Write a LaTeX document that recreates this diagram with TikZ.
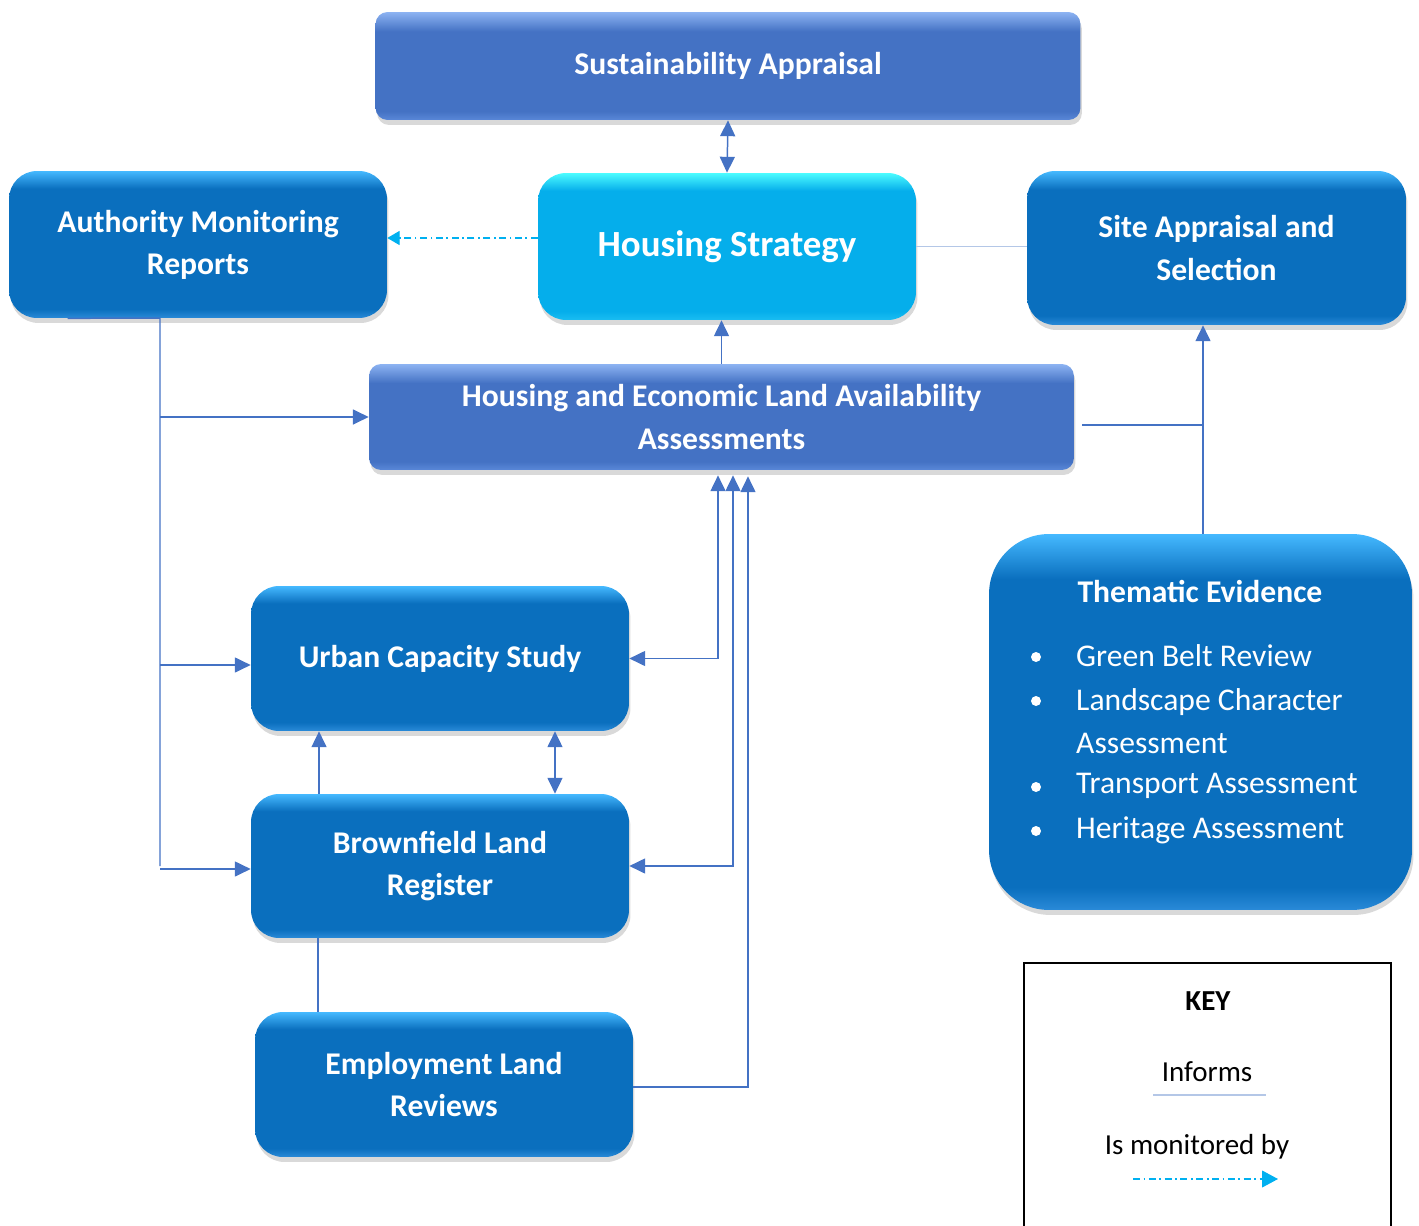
\documentclass[tikz,border=0pt]{standalone}
\usepackage{fontspec}
\setmainfont{Carlito}
\usetikzlibrary{arrows.meta,shadows}

\definecolor{boxblue}{HTML}{0A6FBE}
\definecolor{bluetop}{HTML}{45B9FF}
\definecolor{blueedge}{HTML}{2A8AD8}
\definecolor{boxcyan}{HTML}{05AEEB}
\definecolor{cyantop}{HTML}{4CFCFF}
\definecolor{cyanedge}{HTML}{1ABDF2}
\definecolor{boxperi}{HTML}{4472C4}
\definecolor{peritop}{HTML}{8DB3F2}
\definecolor{periedge}{HTML}{5A88D8}
\definecolor{linkblue}{HTML}{4472C4}
\definecolor{monitorcyan}{HTML}{00B0F0}
\definecolor{paleline}{HTML}{B4C7E7}

\pgfdeclareverticalshading{bluebevel}{100bp}{color(0bp)=(blueedge); color(25bp)=(blueedge);
  color(28bp)=(boxblue); color(69bp)=(boxblue); color(75bp)=(bluetop); color(100bp)=(bluetop)}
\pgfdeclareverticalshading{cyanbevel}{100bp}{color(0bp)=(cyanedge); color(25bp)=(cyanedge);
  color(28bp)=(boxcyan); color(69bp)=(boxcyan); color(75bp)=(cyantop); color(100bp)=(cyantop)}
\pgfdeclareverticalshading{peribevel}{100bp}{color(0bp)=(periedge); color(25bp)=(periedge);
  color(29bp)=(boxperi); color(66bp)=(boxperi); color(75bp)=(peritop); color(100bp)=(peritop)}

\tikzset{
  box/.style={rounded corners=0.56cm, minimum width=7.56cm, minimum height=2.9cm,
    align=center, text=white, font=\bfseries\fontsize{18}{24}\selectfont,
    shading=bluebevel, drop shadow={shadow xshift=0.03cm, shadow yshift=-0.1cm, opacity=.3}},
  widebox/.style={box, rounded corners=0.24cm, minimum width=14.1cm, minimum height=2.12cm,
    shading=peribevel},
  con/.style={draw=linkblue, line width=0.85pt},
  monitor/.style={draw=monitorcyan, line width=0.7pt, dash pattern=on 4pt off 2pt on 1pt off 2pt,
    -{Triangle[length=7pt,width=8pt]}},
  listitem/.style={anchor=west, align=left, text=white, font=\fontsize{18}{24.5}\selectfont},
  bullet/.style={circle, fill=white, inner sep=0pt, minimum size=0.2cm},
  keytext/.style={font=\fontsize{16.5}{20}\selectfont},
}

\begin{document}
\begin{tikzpicture}[x=0.02cm, y=-0.02cm, >={Triangle[length=9pt,width=8.5pt]}]
  \useasboundingbox (0,0) rectangle (1419,1226);

  % boxes
  \node[widebox, minimum height=2.16cm] (sa) at (728,66) {Sustainability Appraisal};
  \node[box, shading=cyanbevel, minimum height=2.94cm, font=\bfseries\fontsize{21}{24}\selectfont]
    (hs) at (727,246.5) {Housing Strategy};
  \node[box, minimum height=2.94cm] (amr) at (198,244.5) {Authority Monitoring\\Reports};
  \node[box, minimum width=7.58cm, minimum height=3.08cm] (sas) at (1216.5,248) {Site Appraisal and\\Selection};
  \node[widebox] (helaa) at (721.5,417) {Housing and Economic Land Availability\\Assessments};
  \node[box] (ucs) at (440,658.5) {Urban Capacity Study};
  \node[box, minimum height=2.88cm] (blr) at (440,866) {Brownfield Land\\Register};
  \node[box] (elr) at (444,1084.5) {Employment Land\\Reviews};
  \node[box, rounded corners=1.2cm, minimum width=8.46cm, minimum height=7.52cm] (te) at (1200.5,722) {};

  % thematic evidence list
  \node[text=white, font=\bfseries\fontsize{18}{24}\selectfont] (tetitle) at (1200,591) {Thematic Evidence};
  \node[bullet] (bulleta) at (1036,657) {};
  \node[bullet] (bulletb) at (1036,701) {};
  \node[bullet] (bulletc) at (1036,787) {};
  \node[bullet] (bulletd) at (1036,831) {};
  \node[listitem] (greenbelt) at (1070,656) {Green Belt Review};
  \node[listitem] (landscape) at (1070,721.5) {Landscape Character\\Assessment};
  \node[listitem] (transport) at (1070,786) {Transport Assessment};
  \node[listitem] (heritage) at (1070,830) {Heritage Assessment};

  % connectors
  \draw[con,<->] (hs.north) -- (sa.south);
  \draw[monitor] ([yshift=.17cm]hs.west) -- ([yshift=.17cm]hs.west -| amr.east);
  \draw[draw=paleline, line width=0.6pt] (hs.east) -- (hs.east -| sas.west);
  \draw[con,->] (helaa.north) -- (helaa.north |- hs.south);

  \coordinate (trunk) at (160,318);
  \draw[con] ([xshift=1.18cm]amr.south west) -- (trunk) -- (trunk |- blr.west);
  \draw[con,->] (trunk |- helaa.west) -- (helaa.west);
  \draw[con,->] ([yshift=-.13cm]trunk |- ucs.west) -- ([yshift=-.13cm]ucs.west);
  \draw[con,->] ([yshift=-.06cm]trunk |- blr.west) -- ([yshift=-.06cm]blr.west);

  \draw[con,<->, shorten >=.1cm] (ucs.east) -| ([xshift=-.07cm]helaa.south);
  \draw[con,<->, shorten >=.1cm] (blr.east) -| ([xshift=.23cm]helaa.south);
  \draw[con,->, shorten >=.12cm] ([yshift=-.05cm]elr.east) -| ([xshift=.53cm]helaa.south);

  \draw[con,->] ([xshift=-2.42cm]blr.north) -- ([xshift=-2.42cm]ucs.south);
  \draw[con,<->] ([xshift=2.3cm]blr.north) -- ([xshift=2.3cm]ucs.south);
  \draw[con] ([xshift=-2.44cm]blr.south) -- ([xshift=-2.44cm]blr.south |- elr.north);

  \coordinate (tejoin) at (1203,425);
  \draw[con,->] (tejoin |- te.north) -- (tejoin |- sas.south);
  \draw[con] ([xshift=.16cm]helaa.east |- tejoin) -- (tejoin);

  % key
  \draw[line width=1.3pt] (1024,963) rectangle (1391,1240);
  \node[keytext, font=\bfseries\fontsize{16.5}{20}\selectfont] (keytitle) at (1208,1001) {KEY};
  \node[keytext] (informs) at (1207,1072) {Informs};
  \draw[draw=paleline, line width=0.6pt] (1153,1095) -- (1266,1095);
  \node[keytext] (monitored) at (1197,1147) {Is monitored by};
  \draw[monitor, -{Triangle[length=9pt,width=9.5pt]}] (1133,1179) -- (1278,1179);
\end{tikzpicture}
\end{document}
